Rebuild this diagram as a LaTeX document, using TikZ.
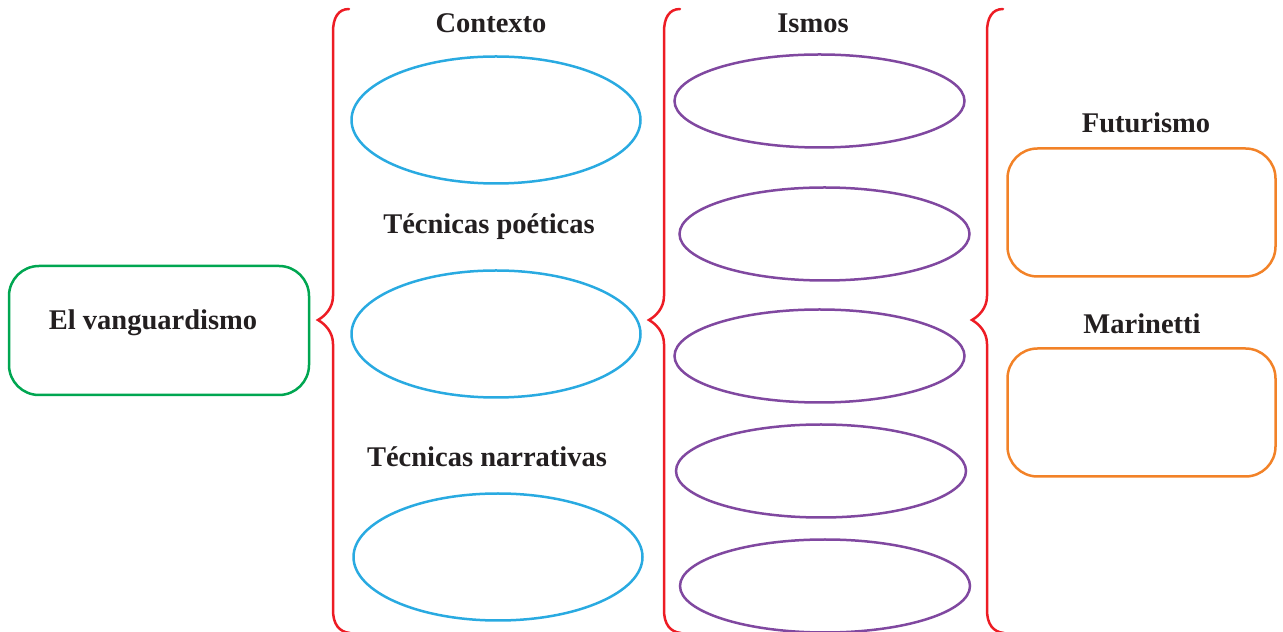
\documentclass[tikz,border=0pt]{standalone}
\usepackage{fontspec}
\setmainfont{Liberation Serif}
\usetikzlibrary{shapes.geometric}
\definecolor{bracered}{RGB}{237,28,36}
\definecolor{boxgreen}{RGB}{0,166,81}
\definecolor{ovalblue}{RGB}{41,170,225}
\definecolor{ovalpurple}{RGB}{128,72,160}
\definecolor{boxorange}{RGB}{242,130,40}
\definecolor{textdark}{RGB}{35,31,32}
\tikzset{
  lbl/.style={font=\fontsize{28.5}{31}\selectfont\bfseries, text=textdark, inner sep=0pt},
  greenbox/.style={draw=boxgreen, line width=2.5pt, rounded corners=30pt, minimum width=300pt, minimum height=129pt},
  orangebox/.style={draw=boxorange, line width=2.5pt, rounded corners=30pt, minimum width=268pt, minimum height=128pt},
  blueoval/.style={draw=ovalblue, line width=2.5pt, ellipse, minimum width=289pt, minimum height=127pt, inner sep=0pt},
  purpleoval/.style={draw=ovalpurple, line width=2.5pt, ellipse, minimum width=290pt, minimum height=93pt, inner sep=0pt},
  bracestyle/.style={draw=bracered, line width=2.5pt, line cap=round},
  redbrace/.pic={
    \draw[bracestyle] (16,623) .. controls (5,623) and (0,614) .. (0,600) -- (0,336)
      .. controls (0,324) and (-8,316) .. (-15,312)
      .. controls (-8,308) and (0,300) .. (0,288) -- (0,22)
      .. controls (0,8) and (6,0) .. (17,-1);
  }
}
\begin{document}
\begin{tikzpicture}[x=1pt,y=1pt]
\useasboundingbox (0,0) rectangle (1283,632);
% left box
\node[greenbox] (van) at (159,301.5) {};
\node[lbl] (vant) at (153,309) {El vanguardismo};
% braces
\pic at (333,0) {redbrace};
\pic at (664,0) {redbrace};
\pic at (987,0) {redbrace};
% column 1
\node[lbl] (ctx) at (491,609) {Contexto};
\node[blueoval] (o1) at (496,512) {};
\node[lbl] (tp) at (489,405) {Técnicas poéticas};
\node[blueoval] (o2) at (496,298) {};
\node[lbl] (tn) at (487,175) {Técnicas narrativas};
\node[blueoval] (o3) at (498,75) {};
% column 2
\node[lbl] (ism) at (813,609) {Ismos};
\node[purpleoval] (p1) at (819.5,531) {};
\node[purpleoval] (p2) at (824.5,398) {};
\node[purpleoval] (p3) at (819.5,276) {};
\node[purpleoval] (p4) at (821,161) {};
\node[purpleoval] (p5) at (825,46) {};
% column 3
\node[lbl] (fut) at (1146,509) {Futurismo};
\node[orangebox] (b1) at (1141.5,419.5) {};
\node[lbl] (mar) at (1142,308) {Marinetti};
\node[orangebox] (b2) at (1141.5,219.5) {};
\end{tikzpicture}
\end{document}
